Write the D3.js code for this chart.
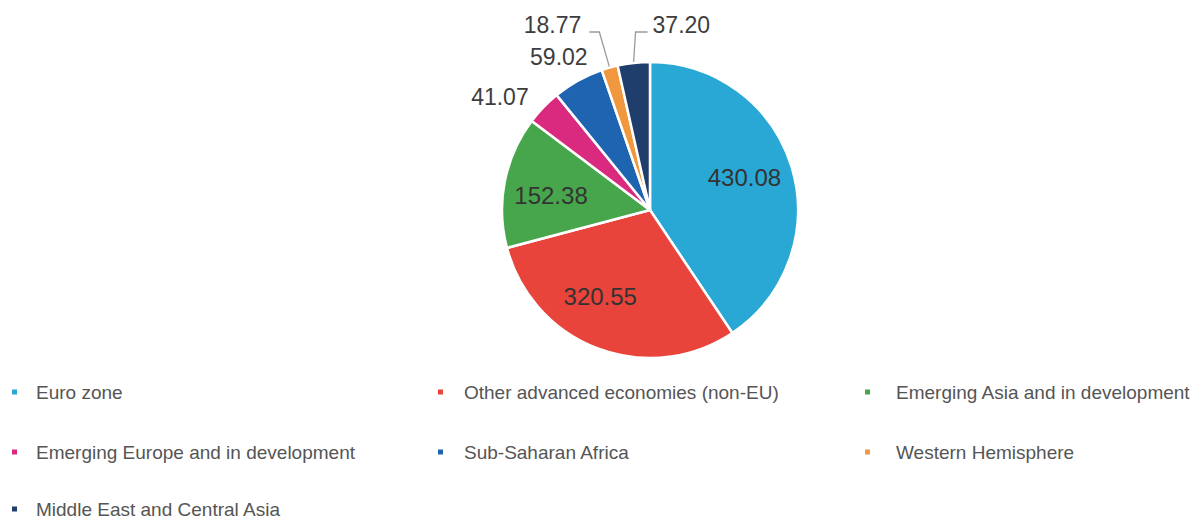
<!DOCTYPE html>
<html>
<head>
<meta charset="utf-8">
<script src="https://cdn.jsdelivr.net/npm/d3@7"></script>
<style>
  html, body { margin: 0; padding: 0; background: #fff; }
  svg { display: block; font-family: "Liberation Sans", Arial, Helvetica, sans-serif; }
</style>
</head>
<body>
<svg id="chart" width="1203" height="520"></svg>
<script>
// Regions and their values
const categories = [
  "Euro zone",
  "Other advanced economies (non-EU)",
  "Emerging Asia and in development",
  "Emerging Europe and in development",
  "Sub-Saharan Africa",
  "Western Hemisphere",
  "Middle East and Central Asia"
];
const values = [430.08, 320.55, 152.38, 41.07, 59.02, 18.77, 37.20];
const valueLabels = ["430.08", "320.55", "152.38", "41.07", "59.02", "18.77", "37.20"];
const colors = ["#29a8d6", "#e8443b", "#47a64b", "#d92a80", "#1f64b0", "#f1983f", "#1f3e6b"];

const data = categories.map((c, i) => ({ name: c, value: values[i], label: valueLabels[i], color: colors[i] }));

const svg = d3.select("#chart");
const cx = 650, cy = 210, R = 148;

const pie = d3.pie().value(d => d.value).sort(null);
const arcs = pie(data);
const arc = d3.arc().innerRadius(0).outerRadius(R);

const g = svg.append("g").attr("transform", `translate(${cx},${cy})`);

g.selectAll("path.slice")
  .data(arcs)
  .join("path")
  .attr("class", "slice")
  .attr("d", arc)
  .attr("fill", d => d.data.color)
  .attr("stroke", "#fff")
  .attr("stroke-width", 2.5)
  .attr("stroke-linejoin", "round");

// Large slices carry their value inside, nudged slightly along the arc
const inner = d3.arc().innerRadius(100).outerRadius(100);
const bigSlice = d => (d.endAngle - d.startAngle) > 0.5;
const innerShift = { "Euro zone": -0.04, "Other advanced economies (non-EU)": 0.16, "Emerging Asia and in development": -0.05 };
g.selectAll("text.inner")
  .data(arcs.filter(bigSlice))
  .join("text")
  .attr("class", "inner")
  .attr("transform", d => {
    const s = innerShift[d.data.name] || 0;
    const [x, y] = inner.centroid({ startAngle: d.startAngle + s, endAngle: d.endAngle + s });
    return `translate(${x},${y})`;
  })
  .attr("text-anchor", "middle")
  .attr("dy", "0.36em")
  .attr("font-size", 24)
  .attr("fill", "#333")
  .text(d => d.data.label);

// Small slices get labels outside, some with elbow leaders
const edgePoint = (d, r) => {
  const a = (d.startAngle + d.endAngle) / 2;
  return [r * Math.sin(a), -r * Math.cos(a)];
};
const outerLayout = {
  "Emerging Europe and in development": { dx: -14, dy: -10, anchor: "end", leader: false },
  "Sub-Saharan Africa": { dx: 10, dy: -23, anchor: "end", leader: false },
  "Western Hemisphere": { elbowY: -178, elbowDx: -10, run: -10, anchor: "end", leader: true },
  "Middle East and Central Asia": { elbowY: -178, elbowDx: 2, run: 12, anchor: "start", leader: true }
};

arcs.filter(d => !bigSlice(d)).forEach(d => {
  const L = outerLayout[d.data.name];
  const p = edgePoint(d, R + 1);
  let tx, ty;
  if (L.leader) {
    const e = [p[0] + L.elbowDx, L.elbowY];
    const end = [e[0] + L.run, e[1]];
    g.append("path")
      .attr("d", d3.line()([p, e, end]))
      .attr("fill", "none")
      .attr("stroke", "#9a9a9a")
      .attr("stroke-width", 1.3);
    tx = end[0] + (L.anchor === "end" ? -8 : 5);
    ty = end[1] - 7;
  } else {
    tx = p[0] + L.dx;
    ty = p[1] + L.dy;
  }
  g.append("text")
    .attr("x", tx)
    .attr("y", ty)
    .attr("dy", "0.36em")
    .attr("text-anchor", L.anchor)
    .attr("font-size", 23)
    .attr("fill", "#3d3d3d")
    .text(d.data.label);
});

// Legend: three columns
const colX = [12, 438, 865];
const rowY = [392, 452, 509];
const legend = svg.append("g").selectAll("g")
  .data(data)
  .join("g")
  .attr("transform", (d, i) => `translate(${colX[i % 3]},${rowY[Math.floor(i / 3)]})`);

legend.append("rect")
  .attr("x", 0).attr("y", -2.5)
  .attr("width", 5).attr("height", 5)
  .attr("fill", d => d.color);

legend.append("text")
  .attr("x", (d, i) => [24, 26, 31][i % 3])
  .attr("y", 0)
  .attr("dy", "0.35em")
  .attr("font-size", 19)
  .attr("fill", "#555")
  .text(d => d.name);
</script>
</body>
</html>
